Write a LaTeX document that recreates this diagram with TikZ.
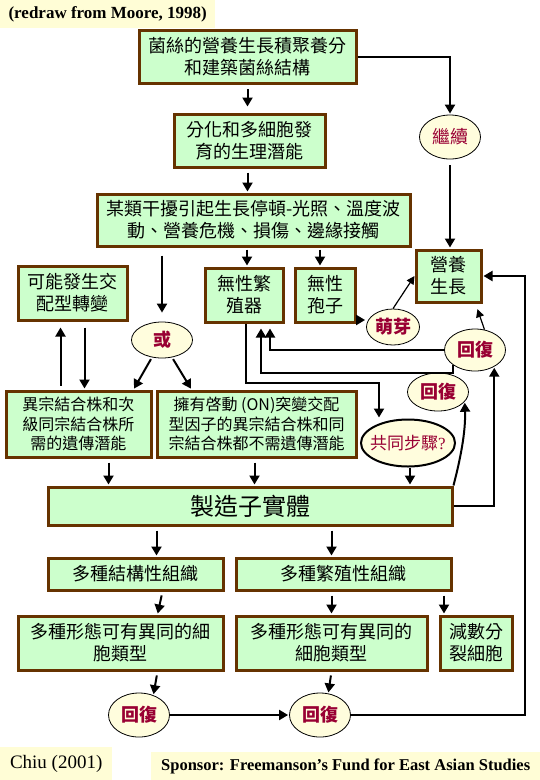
\documentclass[tikz,border=0pt]{standalone}
\usepackage{fontspec}
\setmainfont{Liberation Serif}
\newfontfamily\cjk{Noto Sans CJK TC}
\usetikzlibrary{shapes.geometric, arrows.meta, positioning}
\definecolor{stagefill}{RGB}{204, 255, 204}
\definecolor{stageline}{RGB}{102, 51, 0}
\definecolor{ovalfill}{RGB}{255, 253, 221}
\definecolor{ovaltext}{RGB}{153, 0, 51}
\definecolor{notefill}{RGB}{255, 253, 214}

\begin{document}
\begin{tikzpicture}[
    x=1pt, y=-1pt,
    box/.style={rectangle, draw=stageline, line width=3pt, fill=stagefill, align=center, inner sep=0pt, font=\cjk\fontsize{18}{22}\selectfont},
    oval/.style={ellipse, draw, line width=0.8pt, fill=ovalfill, inner sep=0pt, text=ovaltext, font=\cjk\fontsize{18}{22}\selectfont},
    boldoval/.style={oval, font=\cjk\bfseries\fontsize{18}{22}\selectfont},
    note/.style={rectangle, fill=notefill, inner sep=0pt, anchor=north west},
    arrow/.style={-{Triangle[length=9pt, width=10pt]}, line width=2pt, shorten <=4pt, shorten >=1pt},
    thinarrow/.style={-{Triangle[length=8pt, width=8pt]}, line width=1.2pt}
]
\useasboundingbox (0,0) rectangle (540,780);

% Notes
\node[note, minimum width=215pt, minimum height=28pt, font=\bfseries\fontsize{17}{20}\selectfont] (source) at (0,0) {(redraw from Moore, 1998)};
\node[note, minimum width=112pt, minimum height=33pt, font=\fontsize{19}{22}\selectfont] (author) at (0,747) {Chiu (2001)};
\node[note, minimum width=389pt, minimum height=28pt, font=\bfseries\fontsize{16.5}{20}\selectfont] (sponsor) at (151,752) {Sponsor: Freemanson’s Fund for East Asian Studies};

% Growth stages
\node[box, minimum width=217pt, minimum height=53pt] (mycel) at (247.5,57) {菌絲的營養生長積聚養分\\和建築菌絲結構};
\node[box, minimum width=151pt, minimum height=53pt] (diff) at (249.5,140.5) {分化和多細胞發\\育的生理潛能};
\node[box, minimum width=313pt, minimum height=52pt] (stop) at (253.5,220) {某類干擾引起生長停頓-光照、溫度波\\動、營養危機、損傷、邊緣接觸};
\node[box, minimum width=65pt, minimum height=52pt] (veg) at (448.5,276) {營養\\生長};
\node[oval, minimum width=61pt, minimum height=44pt] (cont) at (450,137) {繼續};

% Branches
\node[box, minimum width=109pt, minimum height=54pt] (mating) at (72.5,293) {可能發生交\\配型轉變};
\node[box, minimum width=78pt, minimum height=54pt] (asexorg) at (244,295) {無性繁\\殖器};
\node[box, minimum width=60pt, minimum height=54pt] (asexspore) at (325,295) {無性\\孢子};
\node[boldoval, minimum width=61pt, minimum height=36pt] (huo) at (162,340) {或};
\node[boldoval, minimum width=53pt, minimum height=36pt] (sprout) at (393,327) {萌芽};
\node[boldoval, minimum width=61pt, minimum height=42pt] (recA) at (475,350) {回復};
\node[boldoval, minimum width=61pt, minimum height=38pt] (recB) at (438,392) {回復};

% Genetic potential
\node[box, minimum width=145pt, minimum height=66pt, font=\cjk\fontsize{16}{19.5}\selectfont] (hetero) at (78.5,424) {異宗結合株和次\\級同宗結合株所\\需的遺傳潛能};
\node[box, minimum width=199pt, minimum height=66pt, font=\cjk\fontsize{16}{19.5}\selectfont] (onfactor) at (256.5,424) {擁有啓動 (ON)突變交配\\型因子的異宗結合株和同\\宗結合株都不需遺傳潛能};
\node[oval, line width=2pt, inner xsep=-8pt, minimum width=94pt, minimum height=47pt, font=\cjk\fontsize{17}{20}\selectfont] (common) at (408,443) {共同步驟{\rmfamily ?}};

% Fruit body
\node[box, minimum width=404pt, minimum height=38pt, font=\cjk\fontsize{24}{28}\selectfont] (fruit) at (250,506) {製造子實體};
\node[box, minimum width=175pt, minimum height=32pt] (struct) at (135.5,574) {多種結構性組織};
\node[box, minimum width=215pt, minimum height=32pt] (repro) at (343.5,574) {多種繁殖性組織};
\node[box, minimum width=205pt, minimum height=54pt] (cellA) at (120.5,643) {多種形態可有異同的細\\胞類型};
\node[box, minimum width=191pt, minimum height=54pt] (cellB) at (331.5,643) {多種形態可有異同的\\細胞類型};
\node[box, minimum width=72pt, minimum height=54pt] (meio) at (476,643) {減數分\\裂細胞};
\node[boldoval, minimum width=61pt, minimum height=44pt] (recC) at (139,715) {回復};
\node[boldoval, minimum width=61pt, minimum height=44pt] (recD) at (320,715) {回復};
\coordinate (rside) at (525,715);

% Main column
\draw[arrow, shorten >=6pt] (mycel.south) -- (mycel.south |- diff.north);
\draw[arrow] (mycel.south |- diff.south) -- (mycel.south |- stop.north);
\draw[arrow, shorten <=0pt] (mycel.east) -| (cont.north);
\draw[arrow, shorten <=6pt] (cont.south) -- (cont.south |- veg.north);

% Stop branches
\draw[arrow, shorten <=2pt] ([xshift=3pt]asexorg.north |- stop.south) -- ([xshift=3pt]asexorg.north);
\draw[arrow, shorten <=2pt] ([xshift=-5pt]asexspore.north |- stop.south) -- ([xshift=-5pt]asexspore.north);
\draw[arrow, shorten <=8pt, shorten >=9pt] (huo.north |- stop.south) -- (huo.north);
\draw[arrow, shorten >=6pt] ([xshift=-12pt]mating.south |- hetero.north) -- ([xshift=-12pt]mating.south);
\draw[arrow, shorten <=6pt] ([xshift=12pt]mating.south) -- ([xshift=12pt]mating.south |- hetero.north);
\draw[arrow, shorten <=2pt] (huo.240) -- ([xshift=55pt]hetero.north);
\draw[arrow, shorten <=2pt] (huo.300) -- ([xshift=-65pt]onfactor.north);

% Asexual loops
\draw[arrow, shorten <=0pt] ([xshift=2pt]asexorg.south) -- ++(0,59) -| ([xshift=-29pt]common.north);
\draw[arrow, shorten <=0pt, shorten >=5pt] (recA.west) -| ([xshift=26pt]asexorg.south);
\draw[arrow, shorten <=0pt, shorten >=5pt] (recA.south west) -- ++(0,8) -| ([xshift=17pt]asexorg.south);
\draw[arrow, shorten <=0pt] ([yshift=-25pt]asexspore.east) -- ([yshift=-25pt]asexspore.east -| sprout.west);
\draw[thinarrow] (sprout.north) -- (veg.west);
\draw[thinarrow, shorten >=6pt] (recA.65) -- ([xshift=27pt]veg.south);
\draw[arrow, shorten <=0pt] (recD.east) -- (rside) |- (veg.east);

% Into fruit body
\draw[arrow] ([xshift=30pt]hetero.south) -- ([xshift=30pt]hetero.south |- fruit.north);
\draw[arrow] ([xshift=-2pt]onfactor.south) -- ([xshift=-2pt]onfactor.south |- fruit.north);
\draw[arrow, shorten <=0pt] ([xshift=2pt]common.south) -- ([xshift=2pt]common.south |- fruit.north);
\draw[arrow, shorten <=0pt] (fruit.east) -| (recA.319);
\draw[arrow, shorten <=0pt] (fruit.north east) .. controls +(7,-27) and +(1,30) .. (recB.340);

% Tissues
\draw[arrow] ([xshift=21pt]struct.north |- fruit.south) -- ([xshift=21pt]struct.north);
\draw[arrow] ([xshift=-12pt]repro.north |- fruit.south) -- ([xshift=-12pt]repro.north);
\draw[arrow] ([xshift=27pt]struct.south) -- ([xshift=37pt]cellA.north);
\draw[arrow] (repro.south -| cellB.north) -- (cellB.north);
\draw[arrow] ([xshift=-32pt]meio.north |- repro.south) -- ([xshift=-32pt]meio.north);
\draw[arrow] ([xshift=37pt]cellA.south) -- (recC.54);
\draw[arrow] (cellB.south) -- (recD.69);
\draw[arrow, shorten <=0pt] (recC.east) -- (recD.west);

\end{tikzpicture}
\end{document}
